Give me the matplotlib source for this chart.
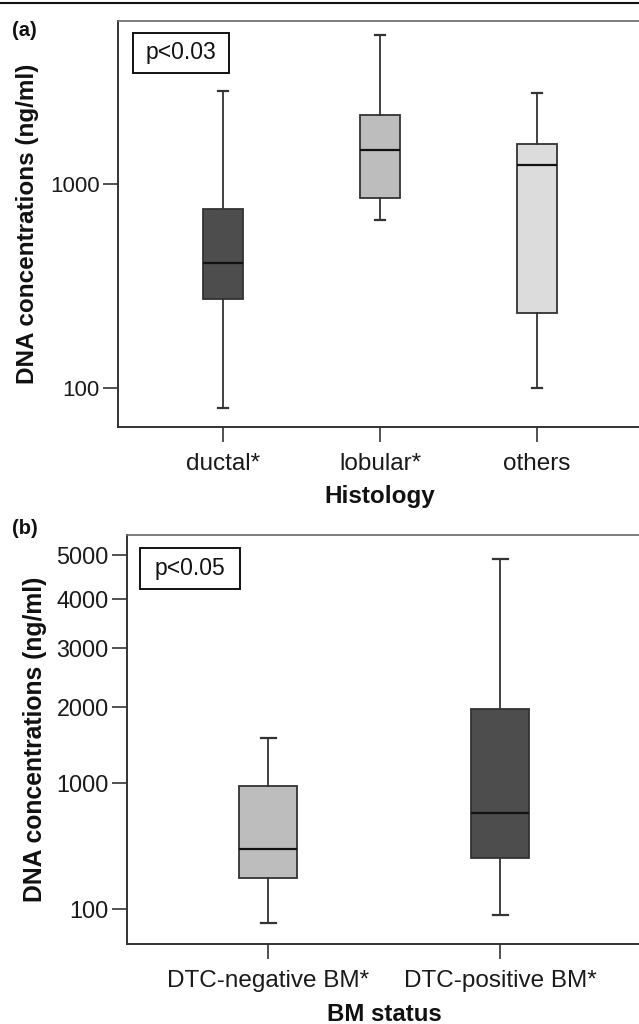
import numpy as np
import matplotlib
matplotlib.use("Agg")
import matplotlib.pyplot as plt
from matplotlib.patches import Rectangle
from matplotlib.lines import Line2D
from matplotlib.ticker import NullLocator, FixedLocator, FixedFormatter

plt.rcParams['font.family'] = ['Liberation Sans', 'DejaVu Sans']

# ---- data (a) Histology ----
hist_categories = ['ductal*', 'lobular*', 'others']
hist_whislo = [80, 663, 100]
hist_q1 = [272, 857, 233]
hist_med = [411, 1473, 1235]
hist_q3 = [754, 2174, 1571]
hist_whishi = [2862, 5370, 2805]
hist_colors = ['#4d4d4d', '#bdbdbd', '#dcdcdc']
hist_yticks = [100, 1000]
hist_ylim = (64.4, 6336)

# ---- data (b) BM status ----
bm_categories = ['DTC-negative BM*', 'DTC-positive BM*']
bm_whislo = [58, 81]
bm_q1 = [234, 351]
bm_med = [411, 700]
bm_q3 = [966, 1960]
bm_whishi = [1550, 4896]
bm_colors = ['#bdbdbd', '#4d4d4d']
bm_yticks = [100, 1000, 2000, 3000, 4000, 5000]
bm_ylim = (16.4, 5497)

W, H = 639, 1024
fig = plt.figure(figsize=(W / 100, H / 100), dpi=100)


def fx(px):
    return px / W


def fy(py):
    return 1 - py / H


def make_stats(cats, lo, q1, med, q3, hi):
    return [dict(label=c, whislo=a, q1=b, med=m, q3=d, whishi=e, fliers=[])
            for c, a, b, m, d, e in zip(cats, lo, q1, med, q3, hi)]


def style_axes(ax):
    for s in ['left', 'bottom']:
        ax.spines[s].set_color('#333333')
        ax.spines[s].set_linewidth(1.4)
    ax.spines['top'].set_color('#666666')
    ax.spines['top'].set_linewidth(1.2)
    ax.spines['right'].set_visible(False)
    ax.tick_params(axis='both', length=11, width=1.2, color='#333333',
                   labelcolor='#1a1a1a')
    ax.yaxis.set_minor_locator(NullLocator())


def draw_boxes(ax, stats, colors, width, capw):
    pos = np.arange(1, len(stats) + 1)
    bp = ax.bxp(stats, positions=pos, widths=width, capwidths=capw,
                patch_artist=True, showfliers=False,
                boxprops=dict(edgecolor='#333333', linewidth=1.3),
                medianprops=dict(color='#111111', linewidth=1.6),
                whiskerprops=dict(color='#333333', linewidth=1.3),
                capprops=dict(color='#333333', linewidth=1.6))
    for patch, c in zip(bp['boxes'], colors):
        patch.set_facecolor(c)
    return pos


# ---------------- panel (a) ----------------
axa = fig.add_axes([fx(118), fy(426.7), fx(642) - fx(118), fy(20.7) - fy(426.7)])
axa.set_yscale('log')
pos_a = draw_boxes(axa, make_stats(hist_categories, hist_whislo, hist_q1, hist_med,
                                   hist_q3, hist_whishi), hist_colors, 0.255, 0.065)
axa.set_xlim(0.33, 3.67)
axa.set_ylim(*hist_ylim)
axa.yaxis.set_major_locator(FixedLocator(hist_yticks))
axa.yaxis.set_major_formatter(FixedFormatter([str(v) for v in hist_yticks]))
style_axes(axa)
axa.set_xticks(pos_a)
axa.set_xticklabels(hist_categories, fontsize=17.5)
axa.tick_params(axis='y', labelsize=16, pad=2)
axa.tick_params(axis='x', pad=8)

# p-value box (a)
axa.add_patch(Rectangle((fx(133), fy(73)), fx(229) - fx(133), fy(33) - fy(73),
                        transform=fig.transFigure, fill=False, edgecolor='#111111',
                        linewidth=1.4, clip_on=False))
fig.text(fx(181), fy(53), 'p<0.03', ha='center', va='center', fontsize=16.5,
         color='#111111')

fig.text(fx(27.5), fy(223.7), 'DNA concentrations (ng/ml)', rotation=90,
         ha='center', va='center', fontsize=17.5, fontweight='bold', color='#111111')
fig.text(fx(380), fy(503), 'Histology', ha='center', va='baseline',
         fontsize=17.5, fontweight='bold', color='#111111')
fig.text(fx(12), fy(30), '(a)', ha='left', va='center', fontsize=14.5,
         fontweight='bold', color='#111111')

# ---------------- panel (b) ----------------
axb = fig.add_axes([fx(126.7), fy(944), fx(642) - fx(126.7), fy(535) - fy(944)])
axb.set_yscale('function', functions=(lambda v: np.sqrt(np.clip(v, 0, None)),
                                      lambda v: np.square(v)))
pos_b = draw_boxes(axb, make_stats(bm_categories, bm_whislo, bm_q1, bm_med,
                                   bm_q3, bm_whishi), bm_colors, 0.25, 0.065)
axb.set_xlim(0.39, 2.61)
axb.set_ylim(*bm_ylim)
axb.yaxis.set_major_locator(FixedLocator(bm_yticks))
axb.yaxis.set_major_formatter(FixedFormatter([str(v) for v in bm_yticks]))
style_axes(axb)
axb.set_xticks(pos_b)
axb.set_xticklabels(bm_categories, fontsize=17.5)
axb.tick_params(axis='y', labelsize=16.8, pad=2)
axb.tick_params(axis='x', pad=8)

axb.add_patch(Rectangle((fx(140), fy(589)), fx(240) - fx(140), fy(548) - fy(589),
                        transform=fig.transFigure, fill=False, edgecolor='#111111',
                        linewidth=1.4, clip_on=False))
fig.text(fx(190), fy(568.5), 'p<0.05', ha='center', va='center', fontsize=16.5,
         color='#111111')

fig.text(fx(35), fy(739.5), 'DNA concentrations (ng/ml)', rotation=90,
         ha='center', va='center', fontsize=17.8, fontweight='bold', color='#111111')
fig.text(fx(384), fy(1021), 'BM status', ha='center', va='baseline',
         fontsize=17.3, fontweight='bold', color='#111111')
fig.text(fx(12), fy(529), '(b)', ha='left', va='center', fontsize=14.5,
         fontweight='bold', color='#111111')

# top rule
fig.add_artist(Line2D([0, 1], [fy(3.3), fy(3.3)], transform=fig.transFigure,
                      color='#111111', linewidth=1.5))

fig.savefig('out.png', dpi=100)
